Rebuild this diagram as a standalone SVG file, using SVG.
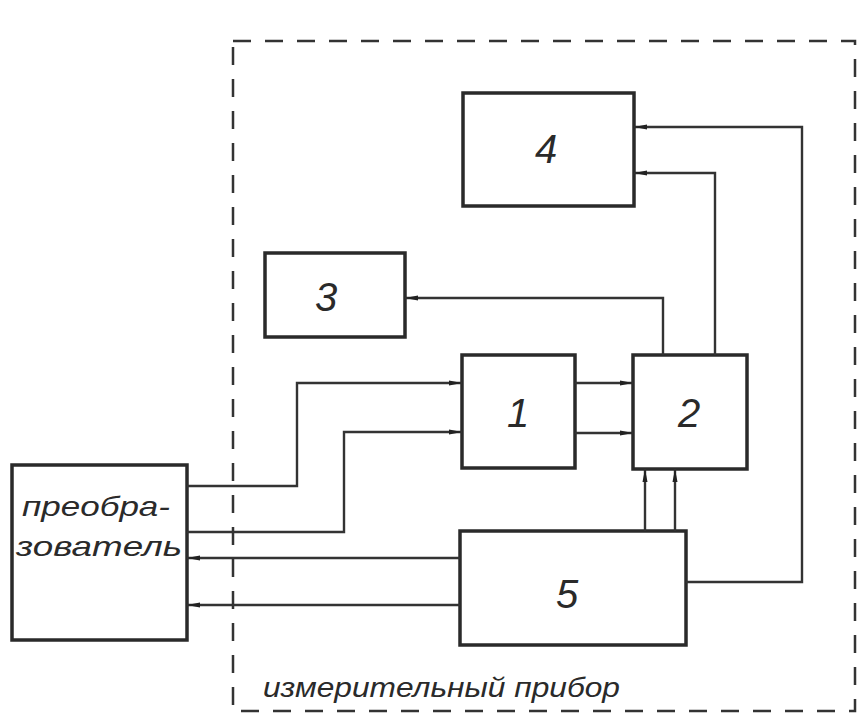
<svg xmlns="http://www.w3.org/2000/svg" width="860" height="718" viewBox="0 0 860 718">
<style>
.box{fill:none;stroke:#2a2a2a;stroke-width:3.5}
.ln{fill:none;stroke:#333;stroke-width:2.4}
.frame{fill:none;stroke:#333;stroke-width:2.5;stroke-dasharray:18 14}
.num{font-family:"Liberation Sans",sans-serif;font-style:italic;font-size:40px;fill:#2a2a2a;text-anchor:middle}
.lbl{font-family:"Liberation Sans",sans-serif;font-style:italic;font-size:28px;fill:#2a2a2a}
</style>
<defs>
<marker id="ah" markerWidth="14" markerHeight="8" refX="13" refY="4" orient="auto" markerUnits="userSpaceOnUse">
<path d="M0,1.5 L13,4 L0,6.5 Z" fill="#222"/>
</marker>
</defs>
<rect width="860" height="718" fill="#fff"/>
<g id="frame">
<rect class="frame" x="233" y="41" width="622" height="670"/>
<text class="lbl" x="263" y="697" textLength="357" lengthAdjust="spacingAndGlyphs">измерительный прибор</text>
</g>
<g id="converter">
<rect class="box" x="12" y="465" width="175" height="175"/>
<text class="lbl" x="22" y="516" textLength="148" lengthAdjust="spacingAndGlyphs">преобра-</text>
<text class="lbl" x="16" y="556" textLength="166" lengthAdjust="spacingAndGlyphs">зователь</text>
</g>
<g id="n1"><rect class="box" x="462" y="355" width="113" height="113"/><text class="num" x="518" y="427">1</text></g>
<g id="n2"><rect class="box" x="633" y="355" width="114" height="114"/><text class="num" x="689" y="427">2</text></g>
<g id="n3"><rect class="box" x="265" y="253" width="140" height="84"/><text class="num" x="326" y="311">3</text></g>
<g id="n4"><rect class="box" x="463" y="93" width="171" height="113"/><text class="num" x="546" y="163">4</text></g>
<g id="n5"><rect class="box" x="460" y="531" width="226" height="114"/><text class="num" x="567" y="608">5</text></g>
<g id="connectors">
<path class="ln" d="M187,486 H297 V383 H462" marker-end="url(#ah)"/>
<path class="ln" d="M187,532 H344 V432 H462" marker-end="url(#ah)"/>
<path class="ln" d="M575,383 H633" marker-end="url(#ah)"/>
<path class="ln" d="M575,433 H633" marker-end="url(#ah)"/>
<path class="ln" d="M645,531 V469" marker-end="url(#ah)"/>
<path class="ln" d="M675,531 V469" marker-end="url(#ah)"/>
<path class="ln" d="M663,355 V298 H405" marker-end="url(#ah)"/>
<path class="ln" d="M715,355 V173 H634" marker-end="url(#ah)"/>
<path class="ln" d="M686,582 H802 V127 H634" marker-end="url(#ah)"/>
<path class="ln" d="M460,558 H187" marker-end="url(#ah)"/>
<path class="ln" d="M460,605 H187" marker-end="url(#ah)"/>
</g>
</svg>
